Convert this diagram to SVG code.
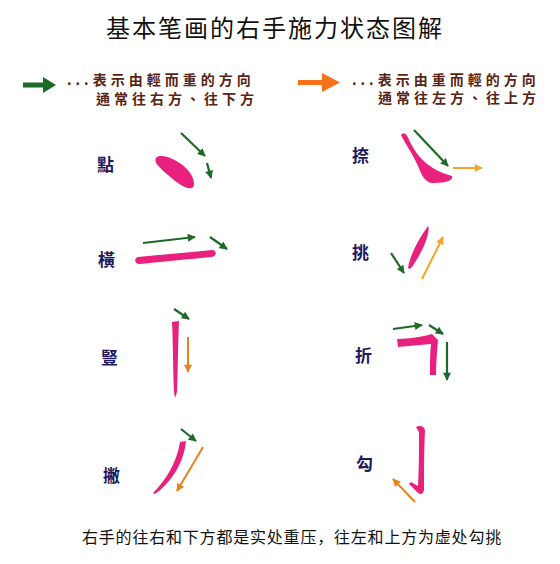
<svg xmlns="http://www.w3.org/2000/svg" width="560" height="564" viewBox="0 0 560 564">
<style>
.title{font-family:"Noto Sans CJK SC","Noto Sans CJK TC",sans-serif;font-size:24px;fill:#111;letter-spacing:2px}
.legend{font-family:"Noto Sans CJK TC","Noto Sans CJK SC",sans-serif;font-size:14px;fill:#5a2414;letter-spacing:4px;font-weight:700}
.lbl{font-family:"Noto Sans CJK TC","Noto Sans CJK SC",sans-serif;font-size:17px;font-weight:700;fill:#1e1a5e}
.foot{font-family:"Noto Sans CJK SC","Noto Sans CJK TC",sans-serif;font-size:16px;fill:#111;letter-spacing:0.8px}
.stroke{fill:#e8207e}
.g{stroke:#1d6a26;stroke-width:2.2;fill:none;marker-end:url(#hg)}
.o{stroke:#e8821e;stroke-width:2;fill:none;marker-end:url(#ho)}
.y{stroke:#f2a52a;stroke-width:2;fill:none;marker-end:url(#hy)}
</style>
<defs>
<marker id="hg" viewBox="0 0 10 10" refX="9" refY="5" markerWidth="9" markerHeight="8" markerUnits="userSpaceOnUse" orient="auto"><path d="M0,0 L10,5 L0,10 z" fill="#1d6a26"/></marker>
<marker id="ho" viewBox="0 0 10 10" refX="9" refY="5" markerWidth="9" markerHeight="8" markerUnits="userSpaceOnUse" orient="auto"><path d="M0,0 L10,5 L0,10 z" fill="#e8821e"/></marker>
<marker id="hy" viewBox="0 0 10 10" refX="9" refY="5" markerWidth="9" markerHeight="8" markerUnits="userSpaceOnUse" orient="auto"><path d="M0,0 L10,5 L0,10 z" fill="#f2a52a"/></marker>
</defs>
<rect width="560" height="564" fill="#fff"/>
<text class="title" x="275" y="37" text-anchor="middle">基本笔画的右手施力状态图解</text>

<g id="legend-green">
<polygon points="23,82.5 43,82.5 43,77 56,85 43,93 43,87.5 23,87.5" fill="#1d6a26"/>
<text class="legend" x="67" y="85">...表示由輕而重的方向</text>
<text class="legend" x="96" y="104">通常往右方、往下方</text>
</g>
<g id="legend-orange">
<polygon points="298,80 322,80 322,73 340,82.5 322,92 322,85 298,85" fill="#f5721a"/>
<text class="legend" x="352" y="85">...表示由重而輕的方向</text>
<text class="legend" x="378" y="103">通常往左方、往上方</text>
</g>

<g id="dian">
<text class="lbl" x="97" y="171">點</text>
<path class="stroke" d="M156,158 C160,153 175,158 186,168 C194,176 196,186 192,188 C186,190 176,182 168,175 C160,168 153,162 156,158 Z"/>
</g>
<g id="heng">
<text class="lbl" x="98" y="266">橫</text>
<path class="stroke" d="M138,257 C160,255 190,252 212,250 C217,250 217,256 212,257 C190,259 160,262 140,264 C134,264 134,258 138,257 Z"/>
</g>
<g id="shu">
<text class="lbl" x="101" y="364">豎</text>
<path class="stroke" d="M172,322 L179,321 C178,340 178,370 177,392 L175,398 L174,392 C173,370 173,340 172,322 Z"/>
</g>
<g id="pie">
<text class="lbl" x="103" y="482">撇</text>
<path class="stroke" d="M180,442 L186,441 C184,462 172,482 155,494 L153,493 C166,480 177,462 180,442 Z"/>
</g>
<g id="na">
<text class="lbl" x="352" y="162">捺</text>
<path class="stroke" d="M401,135 C404,131 407,134 410,142 C418,158 430,170 452,176 C453,180 448,183 432,183 C425,182 422,176 418,166 C412,152 404,142 401,135 Z"/>
</g>
<g id="tiao">
<text class="lbl" x="352" y="259">挑</text>
<path class="stroke" d="M408,268 C410,255 418,240 428,226 C430,228 427,240 422,250 C418,258 414,265 410,269 Z"/>
</g>
<g id="zhe">
<text class="lbl" x="355" y="362">折</text>
<path class="stroke" d="M397,339 C410,339 425,336 432,334 L438,340 C437,352 436,364 436,375 L430,375 C430,364 430,352 431,344 C420,345 408,346 398,347 Z"/>
</g>
<g id="gou">
<text class="lbl" x="356" y="470">勾</text>
<path class="stroke" d="M416,427 C420,425 424,426 425,430 C424,450 424,470 424,490 C423,495 420,495 417,492 L409,484 L411,482 L418,486 C419,470 419,450 419,432 Z"/>
</g>

<g id="connectors">
<line class="g" x1="181" y1="133" x2="205" y2="156"/>
<line class="g" x1="207" y1="163" x2="211" y2="178"/>
<line class="g" x1="143" y1="243" x2="195" y2="237"/>
<line class="g" x1="210" y1="237" x2="227" y2="249"/>
<line class="g" x1="174" y1="309" x2="189" y2="319"/>
<line class="o" x1="188" y1="337" x2="188" y2="372"/>
<line class="g" x1="181" y1="429" x2="196" y2="441"/>
<line class="o" x1="203" y1="447" x2="177" y2="491"/>
<line class="g" x1="414" y1="130" x2="448" y2="166"/>
<line class="y" x1="453" y1="168" x2="482" y2="168"/>
<line class="g" x1="391" y1="253" x2="404" y2="273"/>
<line class="y" x1="422" y1="279" x2="443" y2="237"/>
<line class="g" x1="393" y1="329" x2="422" y2="325"/>
<line class="g" x1="429" y1="325" x2="443" y2="334"/>
<line class="g" x1="447" y1="342" x2="447" y2="380"/>
<line class="o" x1="415" y1="502" x2="393" y2="479"/>
</g>

<text class="foot" x="292" y="543" text-anchor="middle">右手的往右和下方都是实处重压，往左和上方为虚处勾挑</text>
</svg>
